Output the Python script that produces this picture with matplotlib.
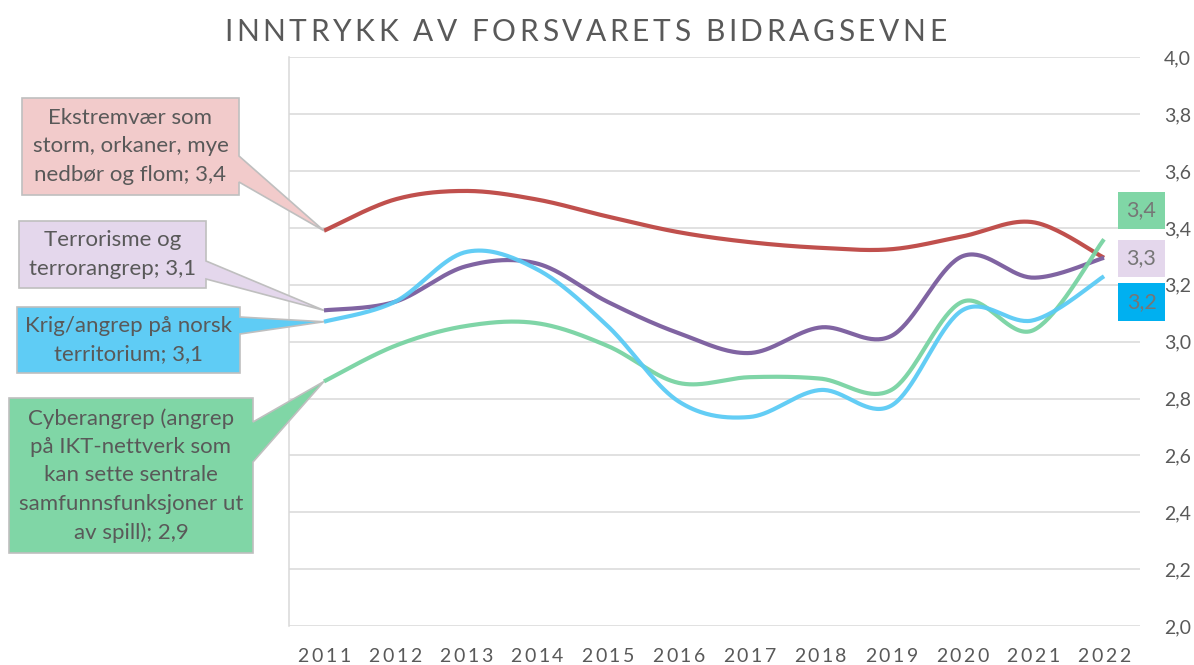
import matplotlib
matplotlib.use("Agg")
import matplotlib.pyplot as plt
from matplotlib.font_manager import FontProperties
from matplotlib.patches import Polygon, Rectangle
from matplotlib.ticker import FuncFormatter
import numpy as np

# ---------------- data ----------------
years = [2011, 2012, 2013, 2014, 2015, 2016, 2017, 2018, 2019, 2020, 2021, 2022]
ekstremvaer = [3.39, 3.50, 3.53, 3.50, 3.44, 3.385, 3.35, 3.33, 3.325, 3.37, 3.42, 3.295]
terror = [3.11, 3.14, 3.265, 3.275, 3.14, 3.03, 2.96, 3.05, 3.02, 3.30, 3.225, 3.295]
krig = [3.07, 3.14, 3.315, 3.255, 3.055, 2.79, 2.735, 2.83, 2.775, 3.11, 3.075, 3.23]
cyber = [2.86, 2.985, 3.055, 3.065, 2.985, 2.855, 2.875, 2.87, 2.83, 3.14, 3.04, 3.36]

names = {
    "ekstremvaer": "Ekstremvær som\nstorm, orkaner, mye\nnedbør og flom",
    "terror": "Terrorisme og\nterrorangrep",
    "krig": "Krig/angrep på norsk\nterritorium",
    "cyber": "Cyberangrep (angrep\npå IKT-nettverk som\nkan sette sentrale\nsamfunnsfunksjoner ut\nav spill)",
}
title = "INNTRYKK AV FORSVARETS BIDRAGSEVNE"
y_ticks = [2.0, 2.2, 2.4, 2.6, 2.8, 3.0, 3.2, 3.4, 3.6, 3.8, 4.0]

# ---------------- style ----------------
W, H = 1194, 665
FONT = ["Lato", "DejaVu Sans"]
plt.rcParams["font.family"] = FONT
TXT = "#595959"
GRID = "#D9D9D9"
colors = {"ekstremvaer": "#C0504D", "terror": "#8064A2", "krig": "#5BCBF5", "cyber": "#78D3A2"}
box_fill = {"ekstremvaer": "#F2CBCB", "terror": "#E4D7EC", "krig": "#5FCCF5", "cyber": "#80D6A6"}

fig = plt.figure(figsize=(W / 100, H / 100), dpi=100)
fig.patch.set_facecolor("white")

ax_l, ax_r, ax_t, ax_b = 288.5, 1139.5, 57.3, 626.0
ax = fig.add_axes([ax_l / W, 1 - ax_b / H, (ax_r - ax_l) / W, (ax_b - ax_t) / H])


def fx(x):
    return x / W


def fy(y):
    return 1 - y / H


def smooth(xs, ys, n=40):
    P = np.column_stack([xs, ys]).astype(float)
    out = []
    for i in range(len(P) - 1):
        p0 = P[i - 1] if i > 0 else P[i]
        p1, p2 = P[i], P[i + 1]
        p3 = P[i + 2] if i + 2 < len(P) else P[i + 1]
        c1 = p1 + (p2 - p0) / 6
        c2 = p2 - (p3 - p1) / 6
        t = np.linspace(0, 1, n)[:, None]
        seg = (1 - t) ** 3 * p1 + 3 * (1 - t) ** 2 * t * c1 + 3 * (1 - t) * t ** 2 * c2 + t ** 3 * p2
        out.append(seg if i == 0 else seg[1:])
    return np.vstack(out)


xs = np.arange(len(years))
series = [("ekstremvaer", ekstremvaer), ("terror", terror), ("cyber", cyber), ("krig", krig)]
for key, vals in series:
    c = smooth(xs, vals)
    ax.plot(c[:, 0], c[:, 1], color=colors[key], lw=3.0, solid_capstyle="butt",
            alpha=0.95 if key in ("krig", "cyber") else 1.0, zorder=3)

ax.set_xlim(-0.5, len(years) - 0.5)
ax.set_ylim(2.0, 4.0)
ax.set_yticks(y_ticks)
ax.yaxis.set_major_formatter(FuncFormatter(lambda v, p: f"{v:.1f}".replace(".", ",")))
ax.yaxis.tick_right()
ax.tick_params(axis="y", length=0, pad=17.5, labelsize=14, labelcolor=TXT)
ax.set_xticks(xs)
ax.tick_params(axis="x", length=0, labelbottom=False)
ax.yaxis.grid(True, color=GRID, lw=1.1)
ax.set_axisbelow(True)
for s in ("top", "right", "bottom"):
    ax.spines[s].set_visible(False)
ax.spines["left"].set_color(GRID)
ax.spines["left"].set_linewidth(1.1)

renderer = fig.canvas.get_renderer()


def text_w(s, fp):
    w, h, d = renderer.get_text_width_height_descent(s + "|", fp, ismath=False)
    w0, _, _ = renderer.get_text_width_height_descent("|", fp, ismath=False)
    return w - w0


def spaced(xc, y, s, target_w, fp, color):
    natural = text_w(s, fp)
    sp = (target_w - natural) / (len(s) - 1)
    x0 = xc - target_w / 2
    for i, ch in enumerate(s):
        if ch == " ":
            continue
        x = x0 + text_w(s[:i], fp) + i * sp
        fig.text(fx(x), fy(y), ch, fontproperties=fp, color=color, ha="left", va="baseline")


# title
fp_title = FontProperties(family=FONT, size=21.5, weight="normal")
spaced(585, 41, title, 722, fp_title, TXT)

# x labels
fp_x = FontProperties(family=FONT, size=14)
for i, yr in enumerate(years):
    xd = ax.transData.transform((i, 2.0))[0]
    spaced(xd, 662, str(yr), 53, fp_x, TXT)

# callouts (box geometry in pixels, tip from data at first year)
boxes = {
    "ekstremvaer": ((22, 98, 239, 195), (156, 182), ekstremvaer[0]),
    "terror": ((19, 221, 206, 288), (261, 279), terror[0]),
    "krig": ((17, 307, 240, 373), (317, 334), krig[0]),
    "cyber": ((9, 398, 253, 553), (422, 462), cyber[0]),
}
for key, ((x0, y0, x1, y1), (ya, yb), v0) in boxes.items():
    tx, ty = ax.transData.transform((0, v0))
    ty = H - ty
    verts = [(x0, y0), (x1, y0), (x1, ya), (tx, ty), (x1, yb), (x1, y1), (x0, y1)]
    poly = Polygon([(fx(a), fy(b)) for a, b in verts], closed=True, transform=fig.transFigure,
                   facecolor=box_fill[key], edgecolor="#BFBFBF", lw=1.2, zorder=4)
    fig.patches.append(poly)
    label = names[key] + "; " + f"{v0:.1f}".replace(".", ",")
    fig.text(fx((x0 + x1) / 2), fy((y0 + y1) / 2), label, ha="center", va="center",
             multialignment="center", fontsize=16, color=TXT, linespacing=1.52, zorder=5)

# end labels
end_boxes = [("cyber", cyber[-1], (1118, 192, 1165, 229), "#80D6A6"),
             ("terror", terror[-1], (1118, 240, 1165, 277), "#E4D7EC"),
             ("krig", krig[-1], (1118, 283, 1165, 321), "#00B0F0")]
for key, v, (x0, y0, x1, y1), fc in end_boxes:
    r = Rectangle((fx(x0), fy(y1)), fx(x1) - fx(x0), fy(y0) - fy(y1), transform=fig.transFigure,
                  facecolor=fc, edgecolor="none", zorder=4)
    fig.patches.append(r)
    fig.text(fx((x0 + x1) / 2), fy((y0 + y1) / 2), f"{v:.1f}".replace(".", ","), ha="center",
             va="center", fontsize=15.5, color="#767676", zorder=5)

fig.savefig("out.png", dpi=100)
